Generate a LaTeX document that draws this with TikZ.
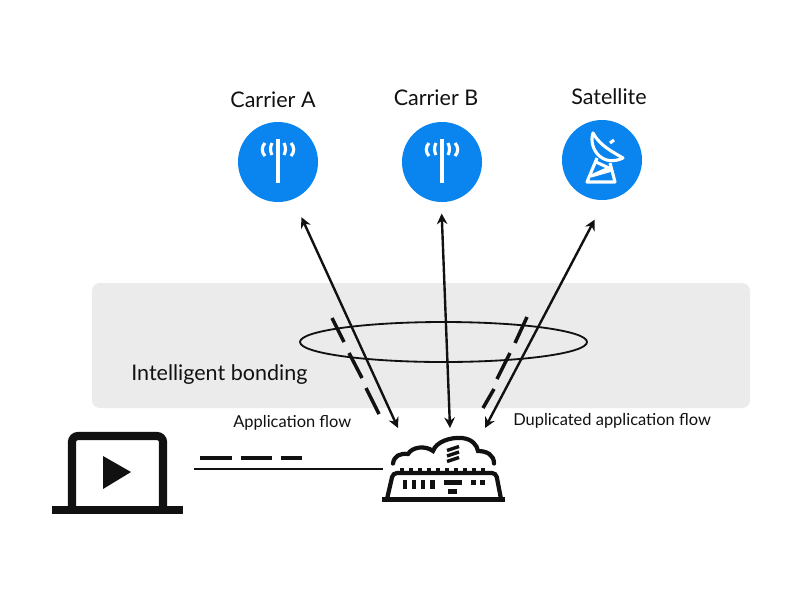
\documentclass[tikz,border=0pt]{standalone}
\usepackage{fontspec}
\setmainfont{Lato}
\usetikzlibrary{arrows.meta,positioning}
\definecolor{bandgray}{HTML}{EBEBEB}
\definecolor{ericblue}{HTML}{0A84EE}
\definecolor{inkblack}{HTML}{111111}
\tikzset{
  sitenode/.style={circle,fill=ericblue,minimum size=2cm,inner sep=0pt,outer sep=.5cm},
  sitelabel/.style={font=\fontsize{15.3}{18}\selectfont,text=inkblack},
  flowlabel/.style={font=\fontsize{11.7}{14}\selectfont,text=inkblack},
  linkarrow/.style={<->,line width=1.7pt,inkblack},
  flowdash/.style={line width=2.5pt,inkblack},
  iconline/.style={white,line width=2.2pt}
}
\begin{document}
\begin{tikzpicture}[>={Stealth[length=7.5pt,width=7.5pt]},x=.025cm,y=-.025cm]
\useasboundingbox (0,0) rectangle (800,600);
\fill[white] (0,0) rectangle (800,600);
% band
\fill[bandgray,rounded corners=.2cm] (92,283) rectangle (750,408);
\node[sitelabel,anchor=west,inner sep=0pt] (bondinglabel) at (131,375) {Intelligent bonding};
\draw[line width=1.3pt,inkblack] (443.5,342) ellipse (143.5 and 20);
% sites
\node[sitenode] (carriera) at (278,162) {};
\node[sitenode] (carrierb) at (442,162) {};
\node[sitenode] (satellite) at (602,160) {};
\node[sitelabel] at (273,100) (carrieralabel) {Carrier A};
\node[sitelabel] at (436,98) (carrierblabel) {Carrier B};
\node[sitelabel] at (609,97) (satellitelabel) {Satellite};
% antenna icons
\foreach \site in {carriera,carrierb}{
  \begin{scope}[shift={(\site.center)}]
    \draw[iconline,line width=2.4pt] (0,-23)--(0,21);
    \draw[iconline] (-6,-19) to[bend right=25] (-6,-7);
    \draw[iconline] (6,-19) to[bend left=25] (6,-7);
    \draw[iconline] (-13,-19) to[bend right=45] (-13,-6);
    \draw[iconline] (13,-19) to[bend left=45] (13,-6);
  \end{scope}
}
% dish icon
\begin{scope}[shift={(satellite.center)}]
  \draw[iconline,line join=round] (-9,-27) .. controls (-14,-12) and (0,8) .. (21,-2)
    .. controls (11,-8) and (-2,-14) .. cycle;
  \draw[iconline] (8,-17)--(12,-20);
  \draw[iconline,line join=round] (-5,-2)--(-15,22)--(13,22)--(8,3);
  \draw[iconline,line join=round] (-6,2)--(7,8)--(-11,16)--(10,10);
\end{scope}
% router ends
\coordinate (routerleft) at (398,428);
\coordinate (routermid) at (450,428);
\coordinate (routerright) at (485,428);
\draw[linkarrow] (carriera.-67)--(routerleft);
\draw[linkarrow,shorten <=-6pt] (carrierb.-90)--(routermid);
\draw[linkarrow] (satellite.-97)--(routerright);
% application flows
\draw[flowdash] (332,318)--(344,342);
\draw[flowdash] (349,353)--(362,378);
\draw[flowdash] (366,388)--(379,414);
\draw[flowdash] (527,317)--(515,343);
\draw[flowdash] (510,353)--(497,379);
\draw[flowdash] (494,389)--(483,408);
\node[flowlabel,anchor=west,inner sep=0pt] (applabel) at (233,423) {Application flow};
\node[flowlabel,anchor=west,inner sep=0pt] (duplabel) at (513,421) {Duplicated application flow};
% laptop
\draw[inkblack,line width=5.8pt,rounded corners=.15cm] (72,510)--(72,436)--(163,436)--(163,510);
\draw[inkblack,line width=5.8pt] (52,510)--(183,510);
\fill[inkblack] (103,456)--(103,489)--(131,472)--cycle;
% link laptop to router
\coordinate (laptopout) at (194,469);
\coordinate (routerin) at (383,469);
\draw[line width=1.5pt,inkblack] (laptopout)--(routerin);
\draw[flowdash] (200,458)--(232,458);
\draw[flowdash] (241,458)--(272,458);
\draw[flowdash] (281,458)--(302,458);
% router
\begin{scope}[inkblack]
  \draw[line width=3.2pt] (382,499.5)--(505,499.5);
  \draw[line width=3pt,rounded corners=.1cm] (387,499)--(393,473)--(496,473)--(501,499);
  \foreach \tx in {400,409,418,427,436,445,454,463,472,481}{
    \fill (\tx-.3,467.5) rectangle (\tx+4.3,472);
  }
  \foreach \wx in {402.5,411.5,420.5,430}{
    \fill (\wx,480) rectangle (\wx+4.5,489);
  }
  \fill (443.5,480) rectangle (461.5,485);
  \fill (448,489) rectangle (457,493.5);
  \fill (470.5,480) rectangle (475.5,485);
  \fill (480,480) rectangle (484.5,485);
  \draw[line width=3pt,line cap=round] (393,463.5) .. controls (394,456) and (400,453) .. (408,454)
    .. controls (412,447) and (425,445) .. (433,451)
    .. controls (436,442) and (450,437) .. (462,438)
    .. controls (472,439) and (477,445) .. (478,451)
    .. controls (487,451) and (494,455) .. (494,463.5);
  \draw[line width=2.4pt] (447,450.5)--(459,446.5);
  \draw[line width=2.4pt] (447,456)--(459,452);
  \draw[line width=2.4pt] (447,461.5)--(459,457.5);
\end{scope}
\end{tikzpicture}
\end{document}
